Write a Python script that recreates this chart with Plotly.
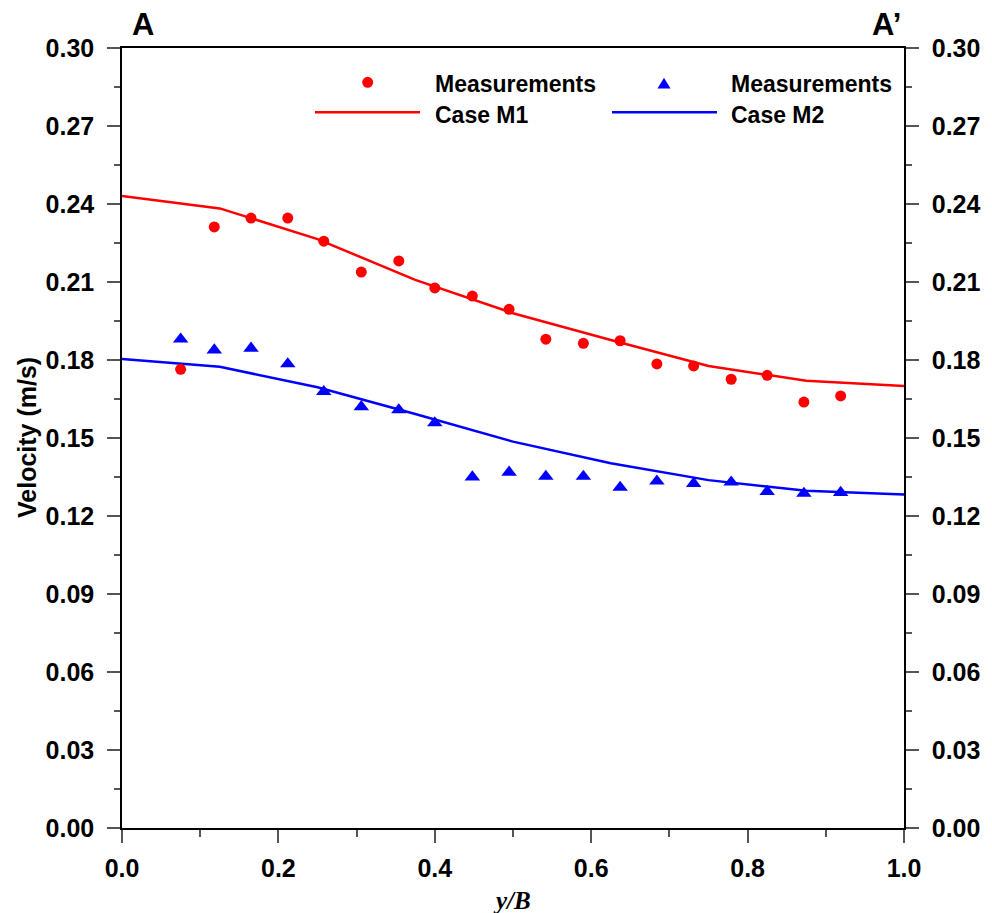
import plotly.graph_objects as go

# Measured velocities across the section (y/B)
meas_x = [0.075, 0.118, 0.165, 0.212, 0.258, 0.306, 0.354, 0.400, 0.448, 0.495,
          0.542, 0.590, 0.637, 0.684, 0.731, 0.779, 0.825, 0.872, 0.919]
meas_m1 = [0.1764, 0.2312, 0.2346, 0.2346, 0.2257, 0.2138, 0.2181, 0.2077, 0.2046, 0.1995,
           0.1880, 0.1864, 0.1874, 0.1785, 0.1777, 0.1726, 0.1741, 0.1638, 0.1662]
meas_m2 = [0.1880, 0.1838, 0.1845, 0.1785, 0.1678, 0.1620, 0.1608, 0.1558, 0.1350, 0.1368,
           0.1352, 0.1352, 0.1310, 0.1334, 0.1325, 0.1330, 0.1294, 0.1287, 0.1290]

# Simulated profiles
model_x = [0.0, 0.125, 0.25, 0.375, 0.5, 0.625, 0.75, 0.875, 1.0]
case_m1 = [0.2431, 0.2383, 0.2265, 0.2108, 0.1980, 0.1877, 0.1777, 0.1720, 0.1700]
case_m2 = [0.1804, 0.1774, 0.1695, 0.1592, 0.1486, 0.1403, 0.1338, 0.1297, 0.1283]

x_ticks = [0.0, 0.2, 0.4, 0.6, 0.8, 1.0]
y_ticks = [0.00, 0.03, 0.06, 0.09, 0.12, 0.15, 0.18, 0.21, 0.24, 0.27, 0.30]

RED = "#ff0000"
BLUE = "#0000ff"
FONT = "Liberation Sans, Arial, sans-serif"

fig = go.Figure()
fig.add_trace(go.Scatter(x=model_x, y=case_m1, mode="lines",
                         line=dict(color=RED, width=2.5), showlegend=False))
fig.add_trace(go.Scatter(x=model_x, y=case_m2, mode="lines",
                         line=dict(color=BLUE, width=2.5), showlegend=False))
fig.add_trace(go.Scatter(x=meas_x, y=meas_m1, mode="markers",
                         marker=dict(color=RED, size=11, symbol="circle"), showlegend=False))
fig.add_trace(go.Scatter(x=meas_x, y=meas_m2, mode="markers",
                         marker=dict(color=BLUE, size=13.5, symbol="triangle-up"), showlegend=False))

tickfont = dict(family=FONT, size=25, color="black", weight="bold")
yaxis_common = dict(
    range=[0, 0.30], tickmode="array", tickvals=y_ticks,
    ticktext=[f"{v:.2f}" for v in y_ticks],
    ticks="outside", ticklen=13, tickwidth=1.5, tickcolor="#555555",
    minor=dict(dtick=0.015, tick0=0, ticks="outside", ticklen=6, tickwidth=1.5, tickcolor="#555555"),
    showline=True, linecolor="black", linewidth=1.5,
    showgrid=False, zeroline=False, tickfont=tickfont, ticklabelstandoff=8,
)

fig.update_layout(
    width=992, height=913,
    margin=dict(l=122, r=88, t=48, b=85),
    plot_bgcolor="white", paper_bgcolor="white",
    xaxis=dict(
        range=[0, 1], tickmode="array", tickvals=x_ticks,
        ticktext=[f"{v:.1f}" for v in x_ticks],
        ticks="outside", ticklen=13, tickwidth=1.5, tickcolor="#555555",
        minor=dict(dtick=0.1, tick0=0, ticks="outside", ticklen=7, tickwidth=1.5, tickcolor="#555555"),
        showline=True, linecolor="black", linewidth=1.5, mirror=True,
        showgrid=False, zeroline=False, tickfont=tickfont, ticklabelstandoff=4,
    ),
    yaxis=dict(side="left", **yaxis_common),
    yaxis2=dict(side="right", overlaying="y", anchor="x", **yaxis_common),
)

# Invisible trace so the right-hand axis is rendered
fig.add_trace(go.Scatter(x=[None], y=[None], yaxis="y2", showlegend=False, hoverinfo="skip"))


def px_x(p):
    return (p - 122) / 782


def px_y(p):
    return (828 - p) / 780


annotations = []
shapes = []

# Legend: two columns, marker on the first row, line sample on the second
legend_cols = [
    dict(color=RED, label="Case M1", line=(315, 420), key_x=367.7, key_y=82.3, text_x=433, symbol="circle"),
    dict(color=BLUE, label="Case M2", line=(612, 717), key_x=664, key_y=85.0, text_x=729, symbol="triangle"),
]
for col in legend_cols:
    shapes.append(dict(type="line", xref="paper", yref="paper",
                       x0=px_x(col["line"][0]), x1=px_x(col["line"][1]),
                       y0=px_y(112.3), y1=px_y(112.3),
                       line=dict(color=col["color"], width=2.5)))
    if col["symbol"] == "circle":
        shapes.append(dict(type="circle", xref="paper", yref="paper",
                           xsizemode="pixel", ysizemode="pixel",
                           xanchor=px_x(col["key_x"]), yanchor=px_y(col["key_y"]),
                           x0=-5.5, x1=5.5, y0=-5.5, y1=5.5,
                           fillcolor=col["color"], line=dict(width=0)))
    else:
        shapes.append(dict(type="path", xref="paper", yref="paper",
                           xsizemode="pixel", ysizemode="pixel",
                           xanchor=px_x(col["key_x"]), yanchor=px_y(col["key_y"]),
                           path="M-6.5,-3.4 L6.5,-3.4 L0,7.2 Z",
                           fillcolor=col["color"], line=dict(width=0)))
    annotations.append(dict(text="Measurements", x=px_x(col["text_x"]), y=px_y(84.5),
                            xref="paper", yref="paper", xanchor="left", yanchor="middle",
                            showarrow=False, font=dict(family=FONT, size=23, color="black", weight="bold")))
    annotations.append(dict(text=col["label"], x=px_x(col["text_x"]), y=px_y(115),
                            xref="paper", yref="paper", xanchor="left", yanchor="middle",
                            showarrow=False, font=dict(family=FONT, size=23, color="black", weight="bold")))

# Section end labels
annotations.append(dict(text="A", x=px_x(142.5), y=px_y(24), xref="paper", yref="paper",
                        xanchor="center", yanchor="middle", showarrow=False,
                        font=dict(family=FONT, size=31, color="black", weight="bold")))
annotations.append(dict(text="A\u2019", x=px_x(903), y=px_y(24), xref="paper", yref="paper",
                        xanchor="right", yanchor="middle", showarrow=False,
                        font=dict(family=FONT, size=31, color="black", weight="bold")))

# Axis titles
annotations.append(dict(text="Velocity (m/s)", x=px_x(27), y=0.5, xref="paper", yref="paper",
                        xanchor="center", yanchor="middle", textangle=-90, showarrow=False,
                        font=dict(family=FONT, size=25, color="black", weight="bold")))
annotations.append(dict(text="y/B", x=px_x(512), y=px_y(900), xref="paper", yref="paper",
                        xanchor="center", yanchor="middle", showarrow=False,
                        font=dict(family="Liberation Serif, Times New Roman, serif", size=25,
                                  color="black", weight="bold", style="italic")))

fig.update_layout(annotations=annotations, shapes=shapes)

fig.write_html("out.html")
